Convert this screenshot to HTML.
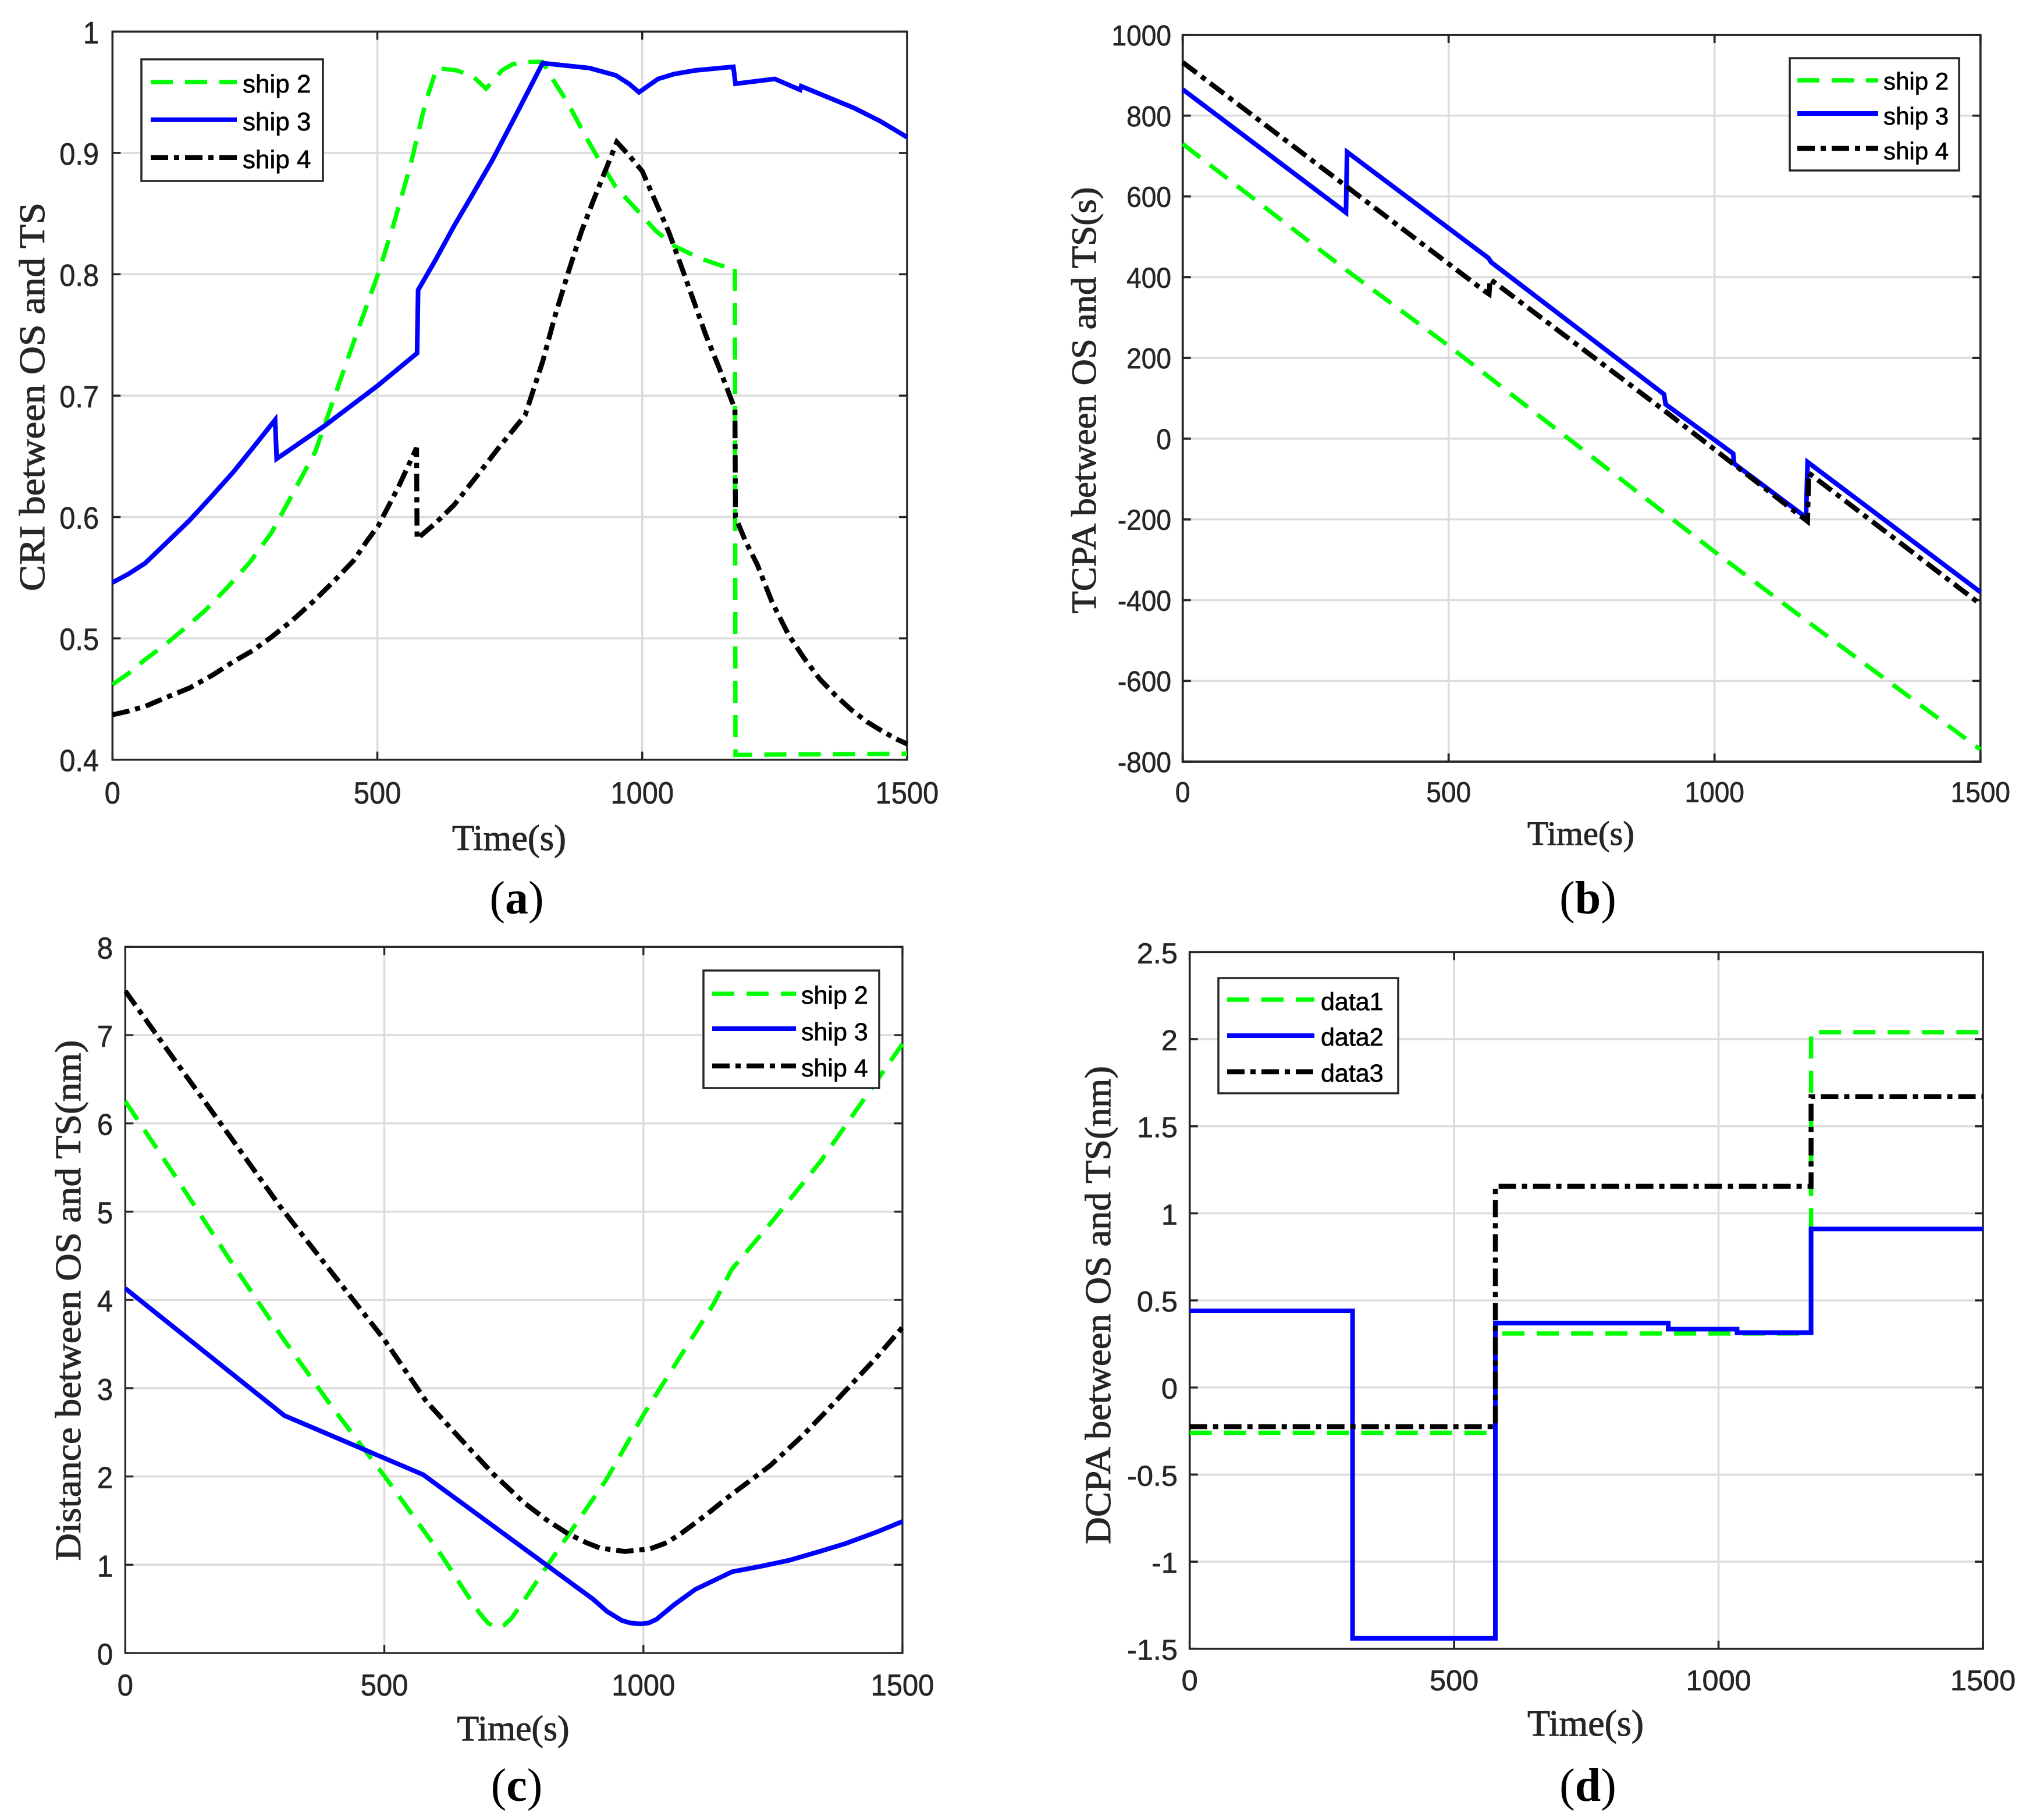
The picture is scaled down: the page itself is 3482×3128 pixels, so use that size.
<!DOCTYPE html>
<html lang="en">
<head>
<meta charset="utf-8">
<title>CRI, TCPA, distance and DCPA between OS and TS</title>
<style>
  html, body { margin: 0; padding: 0; background: #fff; }
  svg { display: block; }
  .tick { font-family: "Liberation Sans", Arial, sans-serif; fill: #262626; stroke: #262626; stroke-width: 0.7; }
  .legend-text { font-family: "Liberation Sans", Arial, sans-serif; font-size: 44px; fill: #000; stroke: #000; stroke-width: 0.7; }
  .axis-title { font-family: "Liberation Serif", "Times New Roman", serif; fill: #262626; stroke: #262626; stroke-width: 1; }
  .caption { font-family: "Liberation Serif", "Times New Roman", serif; font-size: 80px; fill: #000; text-anchor: middle; }
  .caption .letter { font-weight: bold; }
  .legend-box { fill: #fff; stroke: #262626; stroke-width: 3.5; }
  .ln-green { stroke: #00ff00; stroke-width: 7.5; stroke-dasharray: 38 21; fill: none; }
  .ln-blue { stroke: #0000ff; stroke-width: 8; fill: none; }
  .ln-black { stroke: #000; stroke-width: 8.5; stroke-dasharray: 30 10 9 10; fill: none; }
</style>
</head>
<body>
<svg xmlns="http://www.w3.org/2000/svg" width="3482" height="3128" viewBox="0 0 3482 3128">
  <rect width="3482" height="3128" fill="#fff"/>

  <!-- Panel (a) -->
  <g id="panel-a">
    <g id="a-axes"></g>
    <g id="a-marks"></g>
    <text class="axis-title" font-size="62" transform="translate(76,682) rotate(-90)" text-anchor="middle" textLength="668" lengthAdjust="spacingAndGlyphs">CRI between OS and TS</text>
    <text class="axis-title" font-size="62" x="875" y="1461" text-anchor="middle" textLength="196" lengthAdjust="spacingAndGlyphs">Time(s)</text>
    <g>
      <rect class="legend-box" x="243" y="102" width="312" height="209"/>
      <line class="ln-green" x1="259" x2="407" y1="141" y2="141"/>
      <line class="ln-blue" x1="259" x2="407" y1="205.7" y2="205.7"/>
      <line class="ln-black" x1="259" x2="407" y1="270.7" y2="270.7"/>
      <text class="legend-text" x="417" y="159">ship 2</text>
      <text class="legend-text" x="417" y="224">ship 3</text>
      <text class="legend-text" x="417" y="289">ship 4</text>
    </g>
    <text class="caption" x="888" y="1570">(<tspan class="letter">a</tspan>)</text>
  </g>

  <!-- Panel (b) -->
  <g id="panel-b">
    <g id="b-axes"></g>
    <g id="b-marks"></g>
    <text class="axis-title" font-size="60" transform="translate(1883,688) rotate(-90)" text-anchor="middle" textLength="733" lengthAdjust="spacingAndGlyphs">TCPA between OS and TS(s)</text>
    <text class="axis-title" font-size="58" x="2717" y="1452" text-anchor="middle" textLength="184" lengthAdjust="spacingAndGlyphs">Time(s)</text>
    <g>
      <rect class="legend-box" x="3076" y="100" width="291" height="193"/>
      <line class="ln-green" x1="3089" x2="3228" y1="138" y2="138"/>
      <line class="ln-blue" x1="3089" x2="3228" y1="195" y2="195"/>
      <line class="ln-black" x1="3089" x2="3228" y1="255" y2="255"/>
      <text class="legend-text" style="font-size:42px" x="3237" y="154">ship 2</text>
      <text class="legend-text" style="font-size:42px" x="3237" y="214">ship 3</text>
      <text class="legend-text" style="font-size:42px" x="3237" y="274">ship 4</text>
    </g>
    <text class="caption" x="2729" y="1570">(<tspan class="letter">b</tspan>)</text>
  </g>

  <!-- Panel (c) -->
  <g id="panel-c">
    <g id="c-axes"></g>
    <g id="c-marks"></g>
    <text class="axis-title" font-size="62" transform="translate(138,2235) rotate(-90)" text-anchor="middle" textLength="895" lengthAdjust="spacingAndGlyphs">Distance between OS and TS(nm)</text>
    <text class="axis-title" font-size="61" x="882" y="2991" text-anchor="middle" textLength="193" lengthAdjust="spacingAndGlyphs">Time(s)</text>
    <g>
      <rect class="legend-box" x="1209" y="1668" width="302" height="202"/>
      <line class="ln-green" x1="1224" x2="1368" y1="1708" y2="1708"/>
      <line class="ln-blue" x1="1224" x2="1368" y1="1768" y2="1768"/>
      <line class="ln-black" x1="1224" x2="1368" y1="1832" y2="1832"/>
      <text class="legend-text" style="font-size:43px" x="1377" y="1725">ship 2</text>
      <text class="legend-text" style="font-size:43px" x="1377" y="1788">ship 3</text>
      <text class="legend-text" style="font-size:43px" x="1377" y="1850">ship 4</text>
    </g>
    <text class="caption" x="888" y="3095">(<tspan class="letter">c</tspan>)</text>
  </g>

  <!-- Panel (d) -->
  <g id="panel-d">
    <g id="d-axes"></g>
    <g id="d-marks"></g>
    <text class="axis-title" font-size="62" transform="translate(1908,2243) rotate(-90)" text-anchor="middle" textLength="822" lengthAdjust="spacingAndGlyphs">DCPA between OS and TS(nm)</text>
    <text class="axis-title" font-size="63" x="2725" y="2983" text-anchor="middle" textLength="200" lengthAdjust="spacingAndGlyphs">Time(s)</text>
    <g>
      <rect class="legend-box" x="2094" y="1681" width="309" height="198"/>
      <line class="ln-green" x1="2109" x2="2259" y1="1718" y2="1718"/>
      <line class="ln-blue" x1="2109" x2="2259" y1="1780" y2="1780"/>
      <line class="ln-black" x1="2109" x2="2259" y1="1842" y2="1842"/>
      <text class="legend-text" style="font-size:43px" x="2270" y="1736">data1</text>
      <text class="legend-text" style="font-size:43px" x="2270" y="1797">data2</text>
      <text class="legend-text" style="font-size:43px" x="2270" y="1859">data3</text>
    </g>
    <text class="caption" x="2729" y="3095">(<tspan class="letter">d</tspan>)</text>
  </g>
</svg>

<script>
// ---- Shared x axis ----
const timeTicks = [0, 500, 1000, 1500];
const timeTickLabels = ['0', '500', '1000', '1500'];

// ---- (a) CRI ----
const criTicks = [0.4, 0.5, 0.6, 0.7, 0.8, 0.9, 1];
const criTickLabels = ['0.4', '0.5', '0.6', '0.7', '0.8', '0.9', '1'];
const criTimeShip2 = [0, 30, 60, 100, 133, 175, 217, 260, 300, 340, 383, 419, 460, 502, 530, 562, 590, 612, 650, 681, 705, 720, 735, 755, 776, 812, 835, 860, 890, 919, 950, 990, 1025, 1062, 1110, 1150, 1175, 1176, 1500];
const criShip2 = [0.462, 0.471, 0.482, 0.495, 0.507, 0.523, 0.542, 0.563, 0.587, 0.619, 0.654, 0.699, 0.75, 0.801, 0.84, 0.889, 0.94, 0.97, 0.968, 0.963, 0.953, 0.96, 0.968, 0.973, 0.975, 0.975, 0.958, 0.941, 0.916, 0.894, 0.872, 0.853, 0.836, 0.823, 0.813, 0.807, 0.806, 0.404, 0.405];
const criTimeShip3 = [0, 30, 62, 100, 145, 185, 228, 265, 307, 310, 400, 500, 575, 577, 610, 645, 680, 717, 760, 812, 900, 950, 975, 994, 1010, 1030, 1060, 1100, 1172, 1176, 1250, 1298, 1300, 1350, 1400, 1450, 1500];
const criShip3 = [0.546, 0.553, 0.562, 0.578, 0.597, 0.616, 0.637, 0.657, 0.68, 0.648, 0.675, 0.708, 0.735, 0.787, 0.812, 0.84, 0.866, 0.894, 0.93, 0.974, 0.97, 0.964, 0.957, 0.95, 0.955, 0.961, 0.965, 0.968, 0.971, 0.957, 0.961, 0.952, 0.955, 0.946, 0.937, 0.926, 0.913];
const criTimeShip4 = [0, 30, 62, 100, 145, 190, 229, 265, 300, 340, 383, 420, 455, 480, 502, 540, 574, 575, 610, 645, 690, 729, 779, 812, 835, 860, 885, 907, 930, 952, 975, 1000, 1025, 1050, 1075, 1098, 1120, 1145, 1175, 1176, 1195, 1217, 1245, 1276, 1305, 1336, 1365, 1395, 1425, 1455, 1480, 1500];
const criShip4 = [0.437, 0.44, 0.444, 0.451, 0.459, 0.47, 0.481, 0.49, 0.501, 0.515, 0.532, 0.548, 0.564, 0.58, 0.593, 0.625, 0.657, 0.582, 0.595, 0.61, 0.635, 0.657, 0.684, 0.728, 0.765, 0.801, 0.835, 0.86, 0.885, 0.909, 0.898, 0.885, 0.86, 0.835, 0.805, 0.777, 0.75, 0.723, 0.689, 0.6, 0.58, 0.561, 0.53, 0.503, 0.484, 0.466, 0.453, 0.441, 0.431, 0.423, 0.417, 0.413];

// ---- (b) TCPA ----
const tcpaTicks = [-800, -600, -400, -200, 0, 200, 400, 600, 800, 1000];
const tcpaTickLabels = ['-800', '-600', '-400', '-200', '0', '200', '400', '600', '800', '1000'];
const tcpaTimeShip2 = [0, 300, 500, 1000, 1175, 1500];
const tcpaShip2 = [730, 425, 230, -280, -453, -770];
const tcpaTimeShip3 = [0, 307, 309, 575, 580, 905, 908, 1035, 1037, 1172, 1175, 1500];
const tcpaShip3 = [865, 560, 710, 447, 437, 110, 85, -37, -62, -195, -58, -380];
const tcpaTimeShip4 = [0, 568, 576, 578, 905, 1175, 1177, 1500];
const tcpaShip4 = [932, 365, 358, 395, 70, -205, -85, -410];

// ---- (c) Distance ----
const distTicks = [0, 1, 2, 3, 4, 5, 6, 7, 8];
const distTickLabels = ['0', '1', '2', '3', '4', '5', '6', '7', '8'];
const distTimeShip2 = [0, 100, 200, 300, 400, 501, 611, 660, 684, 700, 715, 730, 745, 770, 818, 928, 1001, 1135, 1171, 1250, 1342, 1500];
const distShip2 = [6.25, 5.37, 4.47, 3.6, 2.78, 2.0, 1.1, 0.66, 0.45, 0.34, 0.29, 0.31, 0.39, 0.6, 1.02, 1.96, 2.71, 3.95, 4.35, 4.9, 5.57, 6.9];
const distTimeShip3 = [0, 307, 575, 903, 930, 958, 975, 995, 1010, 1025, 1060, 1100, 1171, 1225, 1281, 1340, 1390, 1450, 1500];
const distShip3 = [4.13, 2.69, 2.02, 0.61, 0.47, 0.37, 0.34, 0.33, 0.34, 0.38, 0.55, 0.72, 0.92, 0.98, 1.05, 1.15, 1.24, 1.37, 1.49];
const distTimeShip4 = [0, 100, 200, 300, 400, 500, 581, 648, 710, 770, 815, 855, 890, 916, 964, 1013, 1045, 1074, 1120, 1171, 1210, 1244, 1305, 1350, 1390, 1450, 1500];
const distShip4 = [7.5, 6.68, 5.87, 5.05, 4.3, 3.55, 2.85, 2.42, 2.03, 1.7, 1.5, 1.35, 1.25, 1.19, 1.15, 1.18, 1.25, 1.36, 1.56, 1.8, 1.97, 2.12, 2.45, 2.72, 2.97, 3.35, 3.69];

// ---- (d) DCPA ----
const dcpaTicks = [-1.5, -1, -0.5, 0, 0.5, 1, 1.5, 2, 2.5];
const dcpaTickLabels = ['-1.5', '-1', '-0.5', '0', '0.5', '1', '1.5', '2', '2.5'];
const dcpaTimeData1 = [0, 578, 578, 1175, 1175, 1500];
const dcpaData1 = [-0.26, -0.26, 0.31, 0.31, 2.04, 2.04];
const dcpaTimeData2 = [0, 308, 308, 578, 578, 905, 905, 1035, 1035, 1175, 1175, 1500];
const dcpaData2 = [0.44, 0.44, -1.44, -1.44, 0.37, 0.37, 0.335, 0.335, 0.315, 0.315, 0.91, 0.91];
const dcpaTimeData3 = [0, 578, 578, 1175, 1175, 1500];
const dcpaData3 = [-0.225, -0.225, 1.155, 1.155, 1.67, 1.67];

const NS = 'http://www.w3.org/2000/svg';

function node(parent, tag, attrs) {
  const el = document.createElementNS(NS, tag);
  for (const k in attrs) el.setAttribute(k, attrs[k]);
  parent.appendChild(el);
  return el;
}

function drawPanel(id, name, box, text, yTicks, yLabels, series) {
  const xAxis = v => box.left + (v - timeTicks[0]) / (timeTicks[timeTicks.length - 1] - timeTicks[0]) * (box.right - box.left);
  const yMin = yTicks[0], yMax = yTicks[yTicks.length - 1];
  const yAxis = v => box.bottom - (v - yMin) / (yMax - yMin) * (box.bottom - box.top);
  const axes = document.getElementById(id + '-axes');
  const marks = document.getElementById(id + '-marks');

  // gridlines
  timeTicks.forEach((t, i) => {
    if (i === 0 || i === timeTicks.length - 1) return;
    const g = node(axes, 'line', { x1: xAxis(t), x2: xAxis(t), y1: box.top, y2: box.bottom, stroke: '#dcdcdc', 'stroke-width': 3.5 });
    
    
  });
  yTicks.forEach((v, i) => {
    if (i === 0 || i === yTicks.length - 1) return;
    const g = node(axes, 'line', { x1: box.left, x2: box.right, y1: yAxis(v), y2: yAxis(v), stroke: '#dcdcdc', 'stroke-width': 3.5 });
    
    
  });

  // frame
  const frame = node(axes, 'rect', { x: box.left, y: box.top, width: box.right - box.left, height: box.bottom - box.top, fill: 'none', stroke: '#262626', 'stroke-width': box.sw });
  
  

  // tick marks and labels
  timeTicks.forEach((t, i) => {
    const x = xAxis(t);
    const tick = node(axes, 'path', { d: 'M' + x + ' ' + box.bottom + 'v-14M' + x + ' ' + box.top + 'v14', stroke: '#262626', 'stroke-width': box.sw, fill: 'none' });
    
    
    const lab = node(axes, 'text', { class: 'tick', 'font-size': text.fs, 'text-anchor': 'middle', transform: 'translate(' + x + ',' + text.xBase + ') scale(' + text.sx + ',1)' });
    
    
    lab.textContent = timeTickLabels[i];
  });
  yTicks.forEach((v, i) => {
    const y = yAxis(v);
    const tick = node(axes, 'path', { d: 'M' + box.left + ' ' + y + 'h14M' + box.right + ' ' + y + 'h-14', stroke: '#262626', 'stroke-width': box.sw, fill: 'none' });
    
    
    const lab = node(axes, 'text', { class: 'tick', 'font-size': text.fs, 'text-anchor': 'end', transform: 'translate(' + text.yRight + ',' + (y + text.yOff) + ') scale(' + text.sx + ',1)' });
    
    
    lab.textContent = yLabels[i];
  });

  // series, clipped to the plot box
  const clip = node(marks, 'clipPath', { id: id + '-clip' });
  node(clip, 'rect', { x: box.left - 2, y: box.top - 2, width: box.right - box.left + 4, height: box.bottom - box.top + 4 });
  series.forEach(s => {
    const d = s.t.map((t, i) => (i ? 'L' : 'M') + xAxis(t).toFixed(1) + ' ' + yAxis(s.v[i]).toFixed(1)).join('');
    const p = node(marks, 'path', { d: d, class: s.cls, 'clip-path': 'url(#' + id + '-clip)' });
    
    
  });
}

drawPanel('a', 'cri',
  { left: 193.3, right: 1559, top: 54.3, bottom: 1305.7, sw: 3.5 },
  { fs: 53, sx: 0.92, xBase: 1381, yRight: 170, yOff: 20 },
  criTicks, criTickLabels, [
    { t: criTimeShip2, v: criShip2, cls: 'ln-green', label: 'ship-2' },
    { t: criTimeShip3, v: criShip3, cls: 'ln-blue', label: 'ship-3' },
    { t: criTimeShip4, v: criShip4, cls: 'ln-black', label: 'ship-4' }
  ]);

drawPanel('b', 'tcpa',
  { left: 2032.7, right: 3403.7, top: 60, bottom: 1309, sw: 3.8 },
  { fs: 49, sx: 0.94, xBase: 1378.7, yRight: 2013, yOff: 18 },
  tcpaTicks, tcpaTickLabels, [
    { t: tcpaTimeShip2, v: tcpaShip2, cls: 'ln-green', label: 'ship-2' },
    { t: tcpaTimeShip3, v: tcpaShip3, cls: 'ln-blue', label: 'ship-3' },
    { t: tcpaTimeShip4, v: tcpaShip4, cls: 'ln-black', label: 'ship-4' }
  ]);

drawPanel('c', 'distance',
  { left: 215.3, right: 1551, top: 1627.3, bottom: 2841, sw: 3.3 },
  { fs: 52, sx: 0.94, xBase: 2914, yRight: 194, yOff: 20 },
  distTicks, distTickLabels, [
    { t: distTimeShip2, v: distShip2, cls: 'ln-green', label: 'ship-2' },
    { t: distTimeShip3, v: distShip3, cls: 'ln-blue', label: 'ship-3' },
    { t: distTimeShip4, v: distShip4, cls: 'ln-black', label: 'ship-4' }
  ]);

drawPanel('d', 'dcpa',
  { left: 2044.7, right: 3408, top: 1636.3, bottom: 2833.7, sw: 3.6 },
  { fs: 49, sx: 1.03, xBase: 2905, yRight: 2024, yOff: 19 },
  dcpaTicks, dcpaTickLabels, [
    { t: dcpaTimeData1, v: dcpaData1, cls: 'ln-green', label: 'data1' },
    { t: dcpaTimeData2, v: dcpaData2, cls: 'ln-blue', label: 'data2' },
    { t: dcpaTimeData3, v: dcpaData3, cls: 'ln-black', label: 'data3' }
  ]);
</script>
</body>
</html>
